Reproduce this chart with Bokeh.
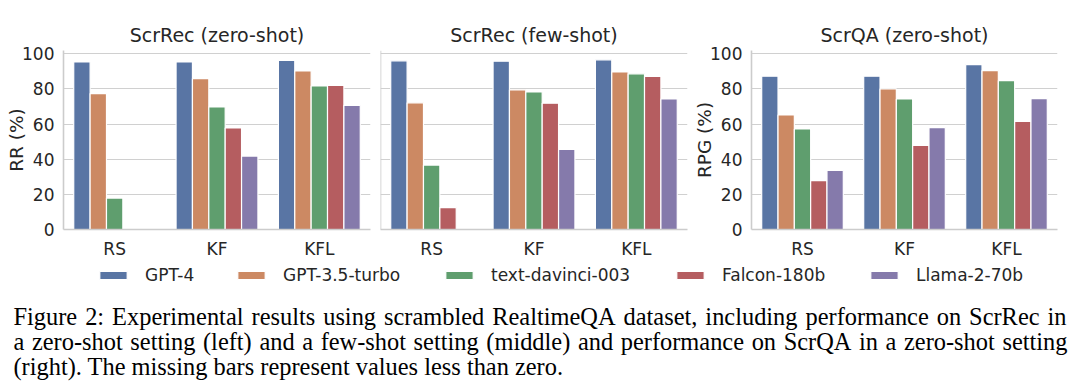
import math
from bokeh.plotting import figure
from bokeh.models import (Range1d, FactorRange, FixedTicker, Label, Legend, LegendItem,
                          ColumnDataSource, Span)
from bokeh.transform import dodge
from bokeh.layouts import column, row
from bokeh.embed import file_html
from bokeh.resources import INLINE

NaN = float("nan")

categories = ["RS", "KF", "KFL"]
models = ["GPT-4", "GPT-3.5-turbo", "text-davinci-003", "Falcon-180b", "Llama-2-70b"]
colors = ["#5975a4", "#cc8963", "#5f9e6e", "#b55d60", "#857aab"]

# ScrRec (zero-shot), RR (%)
rec_zero_gpt4 = [95.4, 95.4, 96.2]
rec_zero_gpt35 = [77.4, 85.9, 90.3]
rec_zero_davinci = [17.9, 69.8, 81.7]
rec_zero_falcon = [NaN, 57.8, 82.1]
rec_zero_llama = [NaN, 41.8, 70.7]

# ScrRec (few-shot), RR (%)
rec_few_gpt4 = [96.0, 95.8, 96.6]
rec_few_gpt35 = [72.1, 79.5, 89.7]
rec_few_davinci = [36.7, 78.3, 88.6]
rec_few_falcon = [12.5, 71.9, 87.1]
rec_few_llama = [NaN, 45.6, 74.3]

# ScrQA (zero-shot), RPG (%)
qa_zero_gpt4 = [87.3, 87.3, 93.9]
qa_zero_gpt35 = [65.2, 80.0, 90.5]
qa_zero_davinci = [57.2, 74.3, 84.8]
qa_zero_falcon = [27.8, 47.9, 61.6]
qa_zero_llama = [33.7, 58.0, 74.5]

y_ticks = [0, 20, 40, 60, 80, 100]

caption_lines = [
    "Figure 2: Experimental results using scrambled RealtimeQA dataset, including performance on ScrRec in",
    "a zero-shot setting (left) and a few-shot setting (middle) and performance on ScrQA in a zero-shot setting",
    "(right). The missing bars represent values less than zero.",
]

panels = [
    ("ScrRec (zero-shot)", "RR (%)", [rec_zero_gpt4, rec_zero_gpt35, rec_zero_davinci, rec_zero_falcon, rec_zero_llama]),
    ("ScrRec (few-shot)", None, [rec_few_gpt4, rec_few_gpt35, rec_few_davinci, rec_few_falcon, rec_few_llama]),
    ("ScrQA (zero-shot)", "RPG (%)", [qa_zero_gpt4, qa_zero_gpt35, qa_zero_davinci, qa_zero_falcon, qa_zero_llama]),
]

TXT = "#262626"
GRID = "#d0d0d0"
SPINE = "#cccccc"
FONT = "DejaVu Sans"

borders = [(63, 307, 5), (5, 307, 3), (61, 306, 23)]
offsets = [-0.32, -0.16, 0.0, 0.16, 0.32]

figs = []
for (title, ylab, series), (bl, fw, br) in zip(panels, borders):
    p = figure(x_range=FactorRange(*categories), y_range=Range1d(0, 101.9),
               frame_width=fw, frame_height=179,
               min_border_left=bl, min_border_right=br, min_border_top=50, min_border_bottom=31,
               toolbar_location=None, output_backend="svg", title=title)
    p.title.align = "center"
    p.title.text_font = FONT
    p.title.text_font_size = "19px"
    p.title.text_font_style = "normal"
    p.title.text_color = TXT
    p.title.standoff = 9
    p.outline_line_color = None
    p.background_fill_color = "white"
    data = {"cat": categories}
    for i, s in enumerate(series):
        data["s%d" % i] = s
    src = ColumnDataSource(data)
    for i in range(len(models)):
        p.vbar(x=dodge("cat", offsets[i], range=p.x_range), top="s%d" % i, width=0.16,
               source=src, fill_color=colors[i], line_color="white", line_width=1.2)
    p.xgrid.visible = False
    p.ygrid.grid_line_color = GRID
    p.ygrid.grid_line_width = 1.2
    p.yaxis.ticker = FixedTicker(ticks=y_ticks)
    p.yaxis.minor_tick_line_color = None
    p.yaxis.major_tick_line_color = None
    p.xaxis.major_tick_line_color = None
    p.axis.axis_line_color = SPINE
    p.axis.axis_line_width = 1.6
    p.axis.major_label_text_font = FONT
    p.axis.major_label_text_color = TXT
    p.axis.major_label_text_font_size = "17px"
    p.xaxis.major_label_standoff = 3
    p.yaxis.major_label_standoff = 3
    if ylab is None:
        p.yaxis.visible = False
        p.add_layout(Span(location=0, dimension="height", line_color=SPINE, line_width=1.6))
    else:
        p.yaxis.axis_label = ylab
        p.yaxis.axis_label_standoff = -8
        p.yaxis.axis_label_text_font = FONT
        p.yaxis.axis_label_text_font_size = "18.5px"
        p.yaxis.axis_label_text_font_style = "normal"
        p.yaxis.axis_label_text_color = TXT
    figs.append(p)

# bottom: legend + caption
fb = figure(width=1080, height=128, x_range=Range1d(0, 1080), y_range=Range1d(128, 0),
            min_border=0, toolbar_location=None, output_backend="svg")
fb.axis.visible = False
fb.grid.visible = False
fb.outline_line_color = None
swatch_left = [97, 235, 443, 674, 868]
for m, c, sx in zip(models, colors, swatch_left):
    r = fb.vbar(x=[NaN], top=[NaN], width=1, fill_color=c, line_color="white", line_width=1)
    leg = Legend(items=[LegendItem(label=m, renderers=[r])], orientation="horizontal",
                 location=(sx - 1, 104),
                 glyph_width=34, glyph_height=10, label_standoff=15, spacing=0,
                 padding=0, margin=0, border_line_alpha=0, background_fill_alpha=0,
                 label_text_font=FONT, label_text_font_size="17px", label_text_color=TXT)
    fb.add_layout(leg)

# Times (Liberation Serif) advance widths, per 1000 em, used to justify the caption
TW = {" ": 250, "(": 333, ")": 333, ",": 250, "-": 333, ".": 250, ":": 278,
      "0": 500, "1": 500, "2": 500, "3": 500,
      "A": 722, "E": 611, "F": 556, "Q": 722, "R": 667, "S": 556, "T": 611,
      "a": 444, "b": 500, "c": 444, "d": 500, "e": 444, "f": 333, "g": 500, "h": 500,
      "i": 278, "j": 278, "k": 500, "l": 278, "m": 778, "n": 500, "o": 500, "p": 500,
      "q": 500, "r": 333, "s": 389, "t": 278, "u": 500, "v": 500, "w": 722, "x": 500,
      "y": 500, "z": 444}
CFS = 24.4
CAP_LEFT = 13
CAP_RIGHT = [1066, 1067, None]


def word_width(w):
    return sum(TW.get(ch, 500) for ch in w) * CFS / 1000.0


for k, line in enumerate(caption_lines):
    yb = 54.7 + 25 * k
    right = CAP_RIGHT[k]
    if right is None:
        fb.add_layout(Label(x=CAP_LEFT, y=yb, text=line, text_font="Liberation Serif",
                            text_font_size="%.1fpx" % CFS, text_baseline="alphabetic",
                            text_color="black"))
        continue
    words = line.split(" ")
    widths = [word_width(w) for w in words]
    gap = (right - CAP_LEFT - sum(widths)) / (len(words) - 1)
    xx = CAP_LEFT
    for w, ww in zip(words, widths):
        fb.add_layout(Label(x=xx, y=yb, text=w, text_font="Liberation Serif",
                            text_font_size="%.1fpx" % CFS, text_baseline="alphabetic",
                            text_color="black"))
        xx += ww + gap

layout = column(row(*figs, spacing=0), fb, spacing=0)
open("out.html", "w").write(file_html(layout, INLINE))
